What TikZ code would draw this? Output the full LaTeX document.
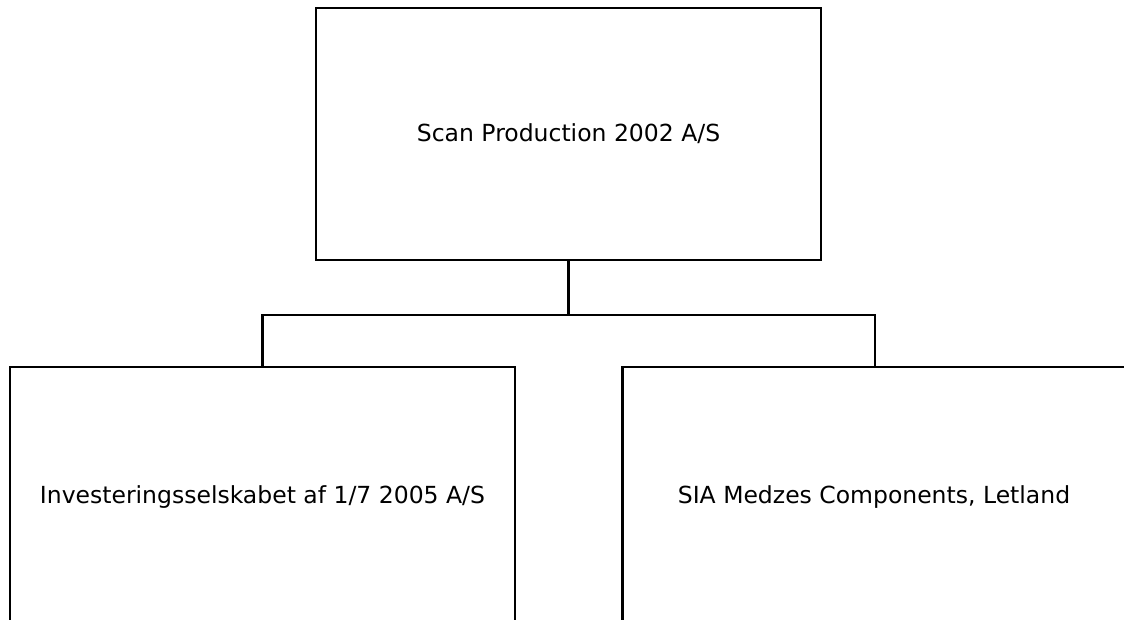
\documentclass[tikz,border=0pt]{standalone}
\usepackage{fontspec}
\setmainfont{DejaVu Sans}
\usepackage{tikz}

\begin{document}
\begin{tikzpicture}[x=1pt, y=-1pt,
    company/.style={draw, line width=2.8pt, minimum width=505pt, minimum height=252pt,
      font=\fontsize{23.5}{28}\selectfont, inner sep=0pt},
    link/.style={line width=2.8pt}]
    \useasboundingbox (0,0) rectangle (1124,619);
    \clip (0,0) rectangle (1124,619);
    % parent company
    \node[company, minimum height=252pt] (parent) at (568.5,134) {Scan Production 2002 A/S};
    % subsidiaries (lower edges run off the page)
    \node[company, minimum height=280pt] (invest) at (262.5,507) {};
    \node[company, minimum height=280pt] (sia) at (875,507) {};
    \node[font=\fontsize{23.5}{28}\selectfont] (investlabel) at (262.5,497) {Investeringsselskabet af 1/7 2005 A/S};
    \node[font=\fontsize{23.5}{28}\selectfont] (sialabel) at (874,497) {SIA Medzes Components, Letland};
    \coordinate (bus) at (568.5,315);
    \draw[link] (parent.south) -- (bus);
    \draw[link] (invest.north) |- (bus) -| (sia.north);
\end{tikzpicture}
\end{document}
